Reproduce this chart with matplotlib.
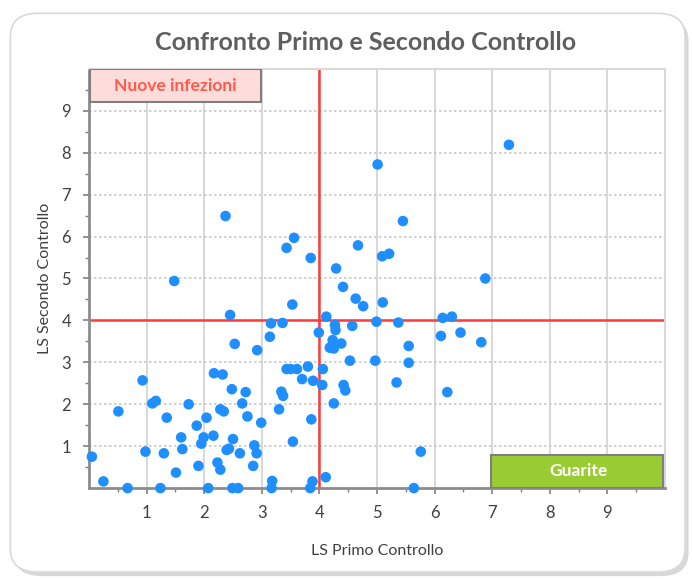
import matplotlib.pyplot as plt
from matplotlib.patches import FancyBboxPatch, Rectangle

plt.rcParams['font.family'] = ['Lato', 'DejaVu Sans']

# LS values (first check, second check)
primo = [0.05, 0.25, 0.67, 0.51, 0.93, 0.98, 1.10, 1.16, 1.24, 1.30, 1.35, 1.48, 1.51,
         1.60, 1.62, 1.73, 1.87, 1.90, 1.95, 1.99, 2.04, 2.07, 2.16, 2.17, 2.23, 2.28,
         2.32, 2.28, 2.34, 2.39, 2.43, 2.45, 2.48, 2.50, 2.49, 2.53, 2.59, 2.62, 2.66,
         2.72, 2.75, 2.85, 2.87, 2.91, 2.92, 2.99, 3.14, 3.16, 3.18, 3.17, 3.30, 3.34,
         3.37, 3.36, 3.43, 3.50, 3.54, 3.53, 3.61, 3.70, 3.80, 3.86, 3.89, 3.84, 3.88,
         3.99, 4.05, 4.06, 4.12, 4.11, 4.25, 4.18, 4.25, 4.27, 4.28, 4.23, 4.38, 4.41,
         4.29, 4.53, 4.57, 4.63, 4.42, 4.45,
         4.76, 5.10, 4.99, 5.37, 4.97, 5.55, 5.55, 5.34, 5.76, 5.64, 6.14, 6.30, 6.11,
         6.45, 6.81, 6.22, 6.88,
         7.29, 5.01, 5.45, 4.67, 3.85, 5.09, 5.21,
         2.37, 3.43, 3.56]
secondo = [0.75, 0.16, 0.00, 1.83, 2.57, 0.87, 2.02, 2.08, 0.00, 0.83, 1.68, 4.94, 0.37,
           1.21, 0.93, 2.00, 1.49, 0.53, 1.06, 1.21, 1.68, 0.00, 1.25, 2.74, 0.61, 0.44,
           2.71, 1.88, 1.83, 0.91, 0.94, 4.13, 2.36, 1.17, 0.00, 3.44, 0.00, 0.83, 2.02,
           2.29, 1.71, 0.53, 1.02, 0.83, 3.29, 1.56, 3.61, 3.93, 0.17, 0.00, 1.88, 2.30,
           2.20, 3.94, 2.84, 2.84, 1.11, 4.38, 2.84, 2.60, 2.90, 1.64, 2.56, 0.00, 0.16,
           3.71, 2.46, 2.84, 4.09, 0.26, 2.02, 3.35, 3.33, 3.89, 3.77, 3.53, 3.45, 4.80,
           5.24, 3.04, 3.87, 4.52, 2.46, 2.33,
           4.34, 4.43, 3.97, 3.95, 3.04, 3.39, 2.99, 2.52, 0.87, 0.00, 4.06, 4.09, 3.63,
           3.71, 3.48, 2.29, 5.00,
           8.19, 7.72, 6.37, 5.79, 5.49, 5.53, 5.59,
           6.49, 5.73, 5.97]

soglia = 4

fig = plt.figure(figsize=(6.92, 5.79), dpi=100)

# rounded outer frame with a soft shadow, kept behind the axes
shadow = FancyBboxPatch((0.02, 0.005), 0.975, 0.965, boxstyle="round,pad=0,rounding_size=0.04",
                        transform=fig.transFigure, facecolor='#d8d8d8', edgecolor='none', zorder=-2)
frame = FancyBboxPatch((0.015, 0.012), 0.975, 0.965, boxstyle="round,pad=0,rounding_size=0.04",
                       transform=fig.transFigure, facecolor='white', edgecolor='#d9d9d9',
                       linewidth=1.2, zorder=-1)
fig.patches.extend([shadow, frame])

ax = fig.add_axes([0.1286, 0.157, 0.8324, 0.724])
ax.patch.set_alpha(0)
ax.set_xlim(0, 10)
ax.set_ylim(0, 10)

ax.set_xticks(range(1, 10))
ax.set_yticks(range(1, 10))
ax.set_xticks([x + 0.5 for x in range(0, 10)], minor=True)
ax.set_yticks([y + 0.5 for y in range(0, 10)], minor=True)
ax.tick_params(which='major', length=4, width=1.2, color='#7f7f7f', labelsize=12,
               labelcolor='#404040', direction='out')
ax.tick_params(axis='x', which='major', pad=8)
ax.tick_params(axis='y', which='major', pad=9)
ax.tick_params(which='minor', length=3, width=1, color='#7f7f7f', direction='out')

# grid: solid vertical, dotted horizontal
for x in range(1, 10):
    ax.axvline(x, color='#d9d9d9', linewidth=1.5, zorder=0)
for y in range(1, 10):
    ax.axhline(y, color='#c8c8c8', linewidth=1.2, linestyle=(0, (1.5, 1.5)), zorder=0)

for side in ['left', 'bottom']:
    ax.spines[side].set_color('#8c8c8c')
    ax.spines[side].set_linewidth(2)
for side in ['top', 'right']:
    ax.spines[side].set_color('#d9d9d9')
    ax.spines[side].set_linewidth(1.5)

ax.axvline(soglia, color='#ff3b3b', linewidth=1.8, zorder=2)
ax.axhline(soglia, color='#ff3b3b', linewidth=1.8, zorder=2)

ax.scatter(primo, secondo, s=58, color='#1f8fff', edgecolors='none', zorder=4, clip_on=False)

# label boxes
ax.add_patch(Rectangle((0.02, 9.22), 2.97, 0.77, facecolor='#ffdcdc', edgecolor='#7f7f7f',
                       linewidth=1.5, zorder=5))
ax.text(1.5, 9.6, 'Nuove infezioni', ha='center', va='center', color='#ff5a4a',
        fontsize=12.5, fontweight='bold', zorder=6)
ax.add_patch(Rectangle((6.98, 0.0), 2.99, 0.78, facecolor='#99cc33', edgecolor='#7f7f7f',
                       linewidth=1.5, zorder=5))
ax.text(8.5, 0.4, 'Guarite', ha='center', va='center', color='white',
        fontsize=12.5, fontweight='bold', zorder=6)

ax.set_xlabel('LS Primo Controllo', fontsize=11.5, color='#404040', labelpad=17)
ax.set_ylabel('LS Secondo Controllo', fontsize=11.5, color='#404040', labelpad=7)
fig.text(0.528, 0.927, 'Confronto Primo e Secondo Controllo', ha='center', va='center',
         fontsize=18, fontweight='bold', color='#5f5f5f')

fig.savefig('out.png', dpi=100)
